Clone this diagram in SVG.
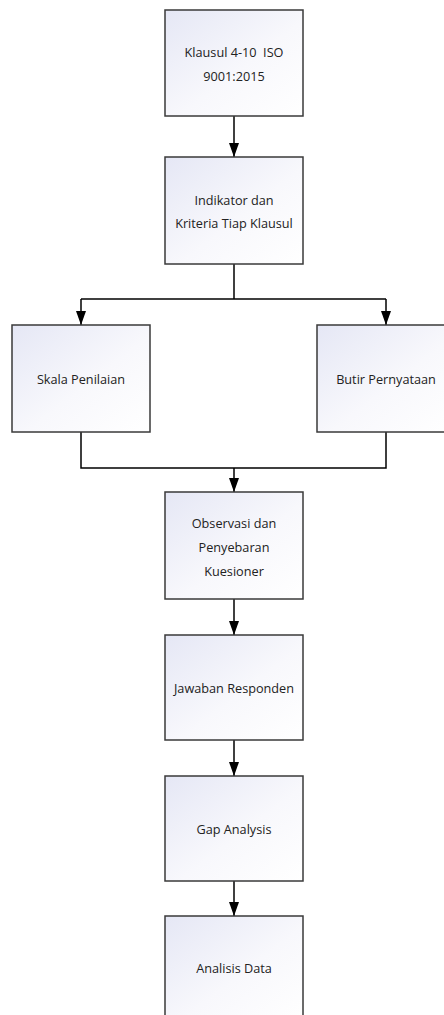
<svg xmlns="http://www.w3.org/2000/svg" width="444" height="1015" viewBox="0 0 444 1015">
<style>
.box{fill:url(#g);stroke:#3a3a3a;stroke-width:1.5}
.t{font-family:"Open Sans","Noto Sans",sans-serif;font-size:12.7px;fill:#222;text-anchor:middle;white-space:pre}
.c{fill:none;stroke:#000;stroke-width:1.5}
</style>
<defs>
<linearGradient id="g" x1="0" y1="0" x2="1" y2="1">
<stop offset="0" stop-color="#e5e7f5"/>
<stop offset="0.55" stop-color="#f8f8fc"/>
<stop offset="1" stop-color="#ffffff"/>
</linearGradient>
<marker id="a" viewBox="0 0 14 10" markerWidth="14" markerHeight="10" refX="14" refY="5" orient="auto" markerUnits="userSpaceOnUse">
<path d="M0,0 L14,5 L0,10 z" fill="#000"/>
</marker>
</defs>
<g id="connectors">
<line class="c" x1="234" y1="116" x2="234" y2="157" marker-end="url(#a)"/>
<path class="c" d="M234,264 V299"/>
<path class="c" d="M81,299 H386"/>
<line class="c" x1="81" y1="299" x2="81" y2="325" marker-end="url(#a)"/>
<line class="c" x1="386" y1="299" x2="386" y2="325" marker-end="url(#a)"/>
<path class="c" d="M81,432 V468 H386 V432"/>
<line class="c" x1="234" y1="468" x2="234" y2="492" marker-end="url(#a)"/>
<line class="c" x1="234" y1="599" x2="234" y2="635" marker-end="url(#a)"/>
<line class="c" x1="234" y1="740" x2="234" y2="776" marker-end="url(#a)"/>
<line class="c" x1="234" y1="881" x2="234" y2="916" marker-end="url(#a)"/>
</g>
<g id="n1"><rect class="box" x="165" y="10" width="138" height="106"/>
<text class="t" x="234" y="57" xml:space="preserve">Klausul 4-10  ISO</text><text class="t" x="234" y="81">9001:2015</text></g>
<g id="n2"><rect class="box" x="165" y="157" width="138" height="107"/>
<text class="t" x="234" y="205">Indikator dan</text><text class="t" x="234" y="228">Kriteria Tiap Klausul</text></g>
<g id="n3"><rect class="box" x="12" y="325" width="138" height="107"/>
<text class="t" x="81" y="384">Skala Penilaian</text></g>
<g id="n4"><rect class="box" x="317" y="325" width="138" height="107"/>
<text class="t" x="386" y="384">Butir Pernyataan</text></g>
<g id="n5"><rect class="box" x="165" y="492" width="138" height="107"/>
<text class="t" x="234" y="528">Observasi dan</text><text class="t" x="234" y="552">Penyebaran</text><text class="t" x="234" y="576">Kuesioner</text></g>
<g id="n6"><rect class="box" x="165" y="635" width="138" height="105"/>
<text class="t" x="234" y="693">Jawaban Responden</text></g>
<g id="n7"><rect class="box" x="165" y="776" width="138" height="105"/>
<text class="t" x="234" y="834">Gap Analysis</text></g>
<g id="n8"><rect class="box" x="165" y="916" width="138" height="106"/>
<text class="t" x="234" y="973">Analisis Data</text></g>
</svg>
